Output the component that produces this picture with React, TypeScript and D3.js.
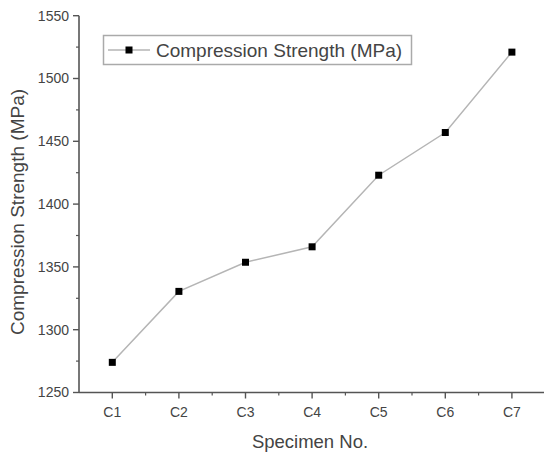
import React from "react";
import * as d3 from "d3";

const categories = ["C1", "C2", "C3", "C4", "C5", "C6", "C7"];
const strength = [1274, 1330.5, 1353.7, 1366, 1423, 1457, 1521];
const yTicks = [1250, 1300, 1350, 1400, 1450, 1500, 1550];
const yMinor = [1275, 1325, 1375, 1425, 1475, 1525];
const seriesName = "Compression Strength (MPa)";

export default function App() {
  const W = 544, H = 454;
  const left = 79, bottom = 392.5, top = 15.7;
  const x = d3.scaleLinear().domain([0.5, 7.5]).range([left, left + 7 * 66.6]);
  const y = d3.scaleLinear().domain([1250, 1550]).range([bottom, top]);
  const line = d3.line<number>().x((_, i) => x(i + 1)).y((d) => y(d));
  const xMinor = d3.range(1.5, 7.5, 1);
  const axisColor = "#555";
  const textColor = "#444";
  const font = "Liberation Sans, Arial, sans-serif";
  return (
    <svg width={W} height={H} style={{ position: "absolute", left: 0, top: 0, background: "#fff" }}>
      <rect x={0} y={0} width={W} height={H} fill="#fff" />
      {/* axes */}
      <line x1={left} x2={left} y1={top} y2={bottom} stroke={axisColor} strokeWidth={1.6} />
      <line x1={left} x2={W} y1={bottom} y2={bottom} stroke={axisColor} strokeWidth={1.6} />
      {yTicks.map((t) => (
        <g key={t}>
          <line x1={left - 6} x2={left} y1={y(t)} y2={y(t)} stroke={axisColor} strokeWidth={1.4} />
          <text x={left - 10} y={y(t)} dy="0.35em" textAnchor="end" fontFamily={font} fontSize={14} fill={textColor}>
            {t}
          </text>
        </g>
      ))}
      {yMinor.map((t) => (
        <line key={t} x1={left - 3} x2={left} y1={y(t)} y2={y(t)} stroke={axisColor} strokeWidth={1.2} />
      ))}
      {categories.map((c, i) => (
        <g key={c}>
          <line x1={x(i + 1)} x2={x(i + 1)} y1={bottom} y2={bottom + 6} stroke={axisColor} strokeWidth={1.4} />
          <text x={x(i + 1)} y={bottom + 20} dy="0.35em" textAnchor="middle" fontFamily={font} fontSize={14} fill={textColor}>
            {c}
          </text>
        </g>
      ))}
      {xMinor.map((t) => (
        <line key={t} x1={x(t)} x2={x(t)} y1={bottom} y2={bottom + 3} stroke={axisColor} strokeWidth={1.2} />
      ))}
      {/* axis titles */}
      <text x={310} y={442} dy="0.35em" textAnchor="middle" fontFamily={font} fontSize={18.5} fill={textColor}>
        Specimen No.
      </text>
      <text
        transform={`translate(17, 212) rotate(-90)`}
        dy="0.35em"
        textAnchor="middle"
        fontFamily={font}
        fontSize={19}
        fill={textColor}
      >
        Compression Strength (MPa)
      </text>
      {/* series */}
      <path d={line(strength) || ""} fill="none" stroke="#b5b5b5" strokeWidth={1.5} />
      {strength.map((v, i) => (
        <rect key={i} x={x(i + 1) - 3.5} y={y(v) - 3.5} width={7} height={7} fill="#000" />
      ))}
      {/* legend */}
      <rect x={103.5} y={35.5} width={308} height={29} fill="#fff" stroke="#aaa" strokeWidth={1.5} />
      <line x1={108} x2={150} y1={50} y2={50} stroke="#b5b5b5" strokeWidth={1.5} />
      <rect x={125.5} y={46.5} width={7} height={7} fill="#000" />
      <text x={156} y={50} dy="0.35em" fontFamily={font} fontSize={19} fill={textColor}>
        {seriesName}
      </text>
    </svg>
  );
}
